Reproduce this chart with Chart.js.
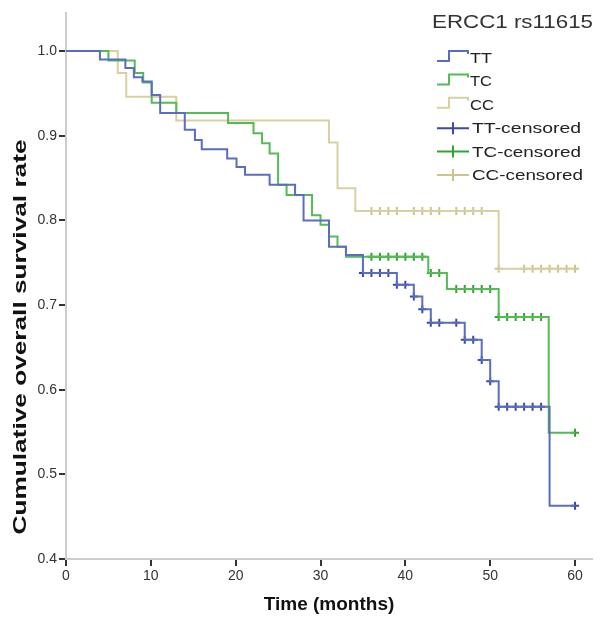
<!DOCTYPE html>
<html>
<head>
<meta charset="utf-8">
<script src="https://cdn.jsdelivr.net/npm/chart.js@4"></script>
<style>
  html, body { margin: 0; padding: 0; background: #fff; }
</style>
</head>
<body>
<canvas id="kmChart" width="600" height="624"></canvas>
<script>
// survival steps (months, cumulative survival)
const ttTime = [0, 4, 7, 8, 9, 10.1, 11.1, 14, 15.2, 16, 19, 20.1, 21.1, 24, 27, 28, 31, 33, 35, 39, 41, 42, 43, 47, 49, 50, 51, 57, 60];
const ttSurv = [1.0, 0.990, 0.980, 0.969, 0.964, 0.948, 0.927, 0.907, 0.895, 0.884, 0.873, 0.863, 0.854, 0.842, 0.830, 0.800, 0.769, 0.759, 0.738, 0.724, 0.710, 0.695, 0.679, 0.659, 0.635, 0.610, 0.580, 0.463, 0.463];

const tcTime = [0, 5, 8.1, 9.1, 10.1, 13, 19.1, 22.1, 23.1, 24, 25, 26, 29, 30, 31, 32, 33, 42.7, 44.9, 51, 56.9, 60];
const tcSurv = [1.0, 0.989, 0.974, 0.963, 0.939, 0.927, 0.915, 0.903, 0.891, 0.879, 0.842, 0.830, 0.806, 0.795, 0.781, 0.769, 0.757, 0.738, 0.719, 0.686, 0.549, 0.549];

const ccTime = [0, 6.1, 7.1, 13, 31, 32, 34.1, 51, 60];
const ccSurv = [1.0, 0.974, 0.946, 0.918, 0.892, 0.838, 0.811, 0.743, 0.743];

// censored cases
const ttCensTime = [35, 36, 37, 38, 39, 40, 41, 42, 43, 44, 46, 47, 48, 49, 50, 51, 52, 53, 54, 55, 56, 60];
const ttCensSurv = [0.738, 0.738, 0.738, 0.738, 0.724, 0.724, 0.710, 0.695, 0.679, 0.679, 0.679, 0.659, 0.659, 0.635, 0.610, 0.580, 0.580, 0.580, 0.580, 0.580, 0.580, 0.463];

const tcCensTime = [36, 37, 38, 39, 40, 41, 42, 43, 44, 46, 47, 48, 49, 50, 51, 52, 53, 54, 55, 56, 60];
const tcCensSurv = [0.757, 0.757, 0.757, 0.757, 0.757, 0.757, 0.757, 0.738, 0.738, 0.719, 0.719, 0.719, 0.719, 0.719, 0.686, 0.686, 0.686, 0.686, 0.686, 0.686, 0.549];

const ccCensTime = [36, 37, 38, 39, 41, 42, 43, 44, 46, 47, 48, 49, 51, 54, 55, 56, 57, 58, 59, 60];
const ccCensSurv = [0.811, 0.811, 0.811, 0.811, 0.811, 0.811, 0.811, 0.811, 0.811, 0.811, 0.811, 0.811, 0.743, 0.743, 0.743, 0.743, 0.743, 0.743, 0.743, 0.743];

const xTicks = [0, 10, 20, 30, 40, 50, 60];
const yTicks = [0.4, 0.5, 0.6, 0.7, 0.8, 0.9, 1.0];

const groupNames = ["TT", "TC", "CC"];
const lineColors = ["#5b6dbe", "#55bb55", "#d9d0a0"];
const markColors = ["#3b4aa8", "#2fa52f", "#cfc38c"];

function toPoints(xs, ys) {
    return xs.map((x, i) => ({x: x, y: ys[i]}));
}

function stepSet(label, xs, ys, color) {
    return {
        label: label,
        data: toPoints(xs, ys),
        showLine: true,
        stepped: 'before',
        borderColor: color,
        borderWidth: 2,
        pointRadius: 0,
        fill: false
    };
}

function censorSet(label, xs, ys, color) {
    return {
        label: label,
        data: toPoints(xs, ys),
        showLine: false,
        pointStyle: 'cross',
        pointRadius: 4,
        borderColor: color,
        borderWidth: 2
    };
}

// title, legend and y title drawn by hand (stretched text like the original export)
const annotations = {
    id: 'annotations',
    afterDraw(chart) {
        const ctx = chart.ctx;
        ctx.save();

        function wideText(text, x, y, font, color, targetWidth) {
            ctx.font = font;
            const w = ctx.measureText(text).width;
            ctx.save();
            ctx.translate(x, y);
            ctx.scale(targetWidth / w, 1);
            ctx.fillStyle = color;
            ctx.textBaseline = 'alphabetic';
            ctx.textAlign = 'left';
            ctx.fillText(text, 0, 0);
            ctx.restore();
        }

        wideText("ERCC1 rs11615", 432, 28, "18px 'Liberation Sans'", "#333", 161);

        const labels = ["TT", "TC", "CC", "TT-censored", "TC-censored", "CC-censored"];
        const widths = [22, 22, 24, 109, 109, 111];
        for (let i = 0; i < labels.length; i++) {
            const base = 63 + i * 23.4;
            const g = i % 3;
            ctx.lineWidth = 2;
            if (i < 3) {
                ctx.strokeStyle = lineColors[g];
                ctx.beginPath();
                ctx.moveTo(437, base - 2);
                ctx.lineTo(449, base - 2);
                ctx.lineTo(449, base - 12);
                ctx.lineTo(468, base - 12);
                ctx.lineTo(468, base - 9);
                ctx.stroke();
            } else {
                ctx.strokeStyle = markColors[g];
                ctx.beginPath();
                ctx.moveTo(437, base - 5);
                ctx.lineTo(469, base - 5);
                ctx.moveTo(453, base - 11);
                ctx.lineTo(453, base + 1);
                ctx.stroke();
            }
            wideText(labels[i], i < 3 ? 470 : 472, base, "14.5px 'Liberation Sans'", "#222", widths[i]);
        }

        // y title, stretched along its length
        const yTitle = "Cumulative overall survival rate";
        ctx.save();
        ctx.font = "bold 18px 'Liberation Sans'";
        const tw = ctx.measureText(yTitle).width;
        ctx.translate(26, 337);
        ctx.rotate(-Math.PI / 2);
        ctx.scale(395 / tw, 1);
        ctx.fillStyle = "#111";
        ctx.textAlign = 'center';
        ctx.textBaseline = 'alphabetic';
        ctx.fillText(yTitle, 0, 0);
        ctx.restore();

        ctx.restore();
    }
};

new Chart("kmChart", {
    type: "scatter",
    data: {
        datasets: [
            stepSet(groupNames[0], ttTime, ttSurv, lineColors[0]),
            stepSet(groupNames[1], tcTime, tcSurv, lineColors[1]),
            stepSet(groupNames[2], ccTime, ccSurv, lineColors[2]),
            censorSet(groupNames[0] + "-censored", ttCensTime, ttCensSurv, markColors[0]),
            censorSet(groupNames[1] + "-censored", tcCensTime, tcCensSurv, markColors[1]),
            censorSet(groupNames[2] + "-censored", ccCensTime, ccCensSurv, markColors[2])
        ]
    },
    options: {
        responsive: false,
        animation: false,
        devicePixelRatio: 1,
        layout: {padding: {top: 13, right: 8, left: 0, bottom: 0}},
        plugins: {
            legend: {display: false},
            tooltip: {enabled: false}
        },
        scales: {
            x: {
                type: 'linear',
                min: 0,
                max: 62,
                afterBuildTicks: (scale) => { scale.ticks = xTicks.map(v => ({value: v})); },
                afterFit: (scale) => { scale.height = 65; },
                grid: {drawOnChartArea: false, drawTicks: true, tickLength: 7, color: '#333', lineWidth: 2},
                border: {display: true, color: '#cdcdcd', width: 2},
                ticks: {color: '#333', font: {family: 'Liberation Sans', size: 14}, padding: 2, maxRotation: 0},
                title: {display: true, text: 'Time (months)', color: '#111', font: {family: 'Liberation Sans', size: 19, weight: 'bold'}, padding: {top: 0, bottom: 8}}
            },
            y: {
                type: 'linear',
                min: 0.4,
                max: 1.045,
                afterBuildTicks: (scale) => { scale.ticks = yTicks.map(v => ({value: v})); },
                afterFit: (scale) => { scale.width = 66; },
                grid: {drawOnChartArea: false, drawTicks: true, tickLength: 7, color: '#333', lineWidth: 2},
                border: {display: true, color: '#cdcdcd', width: 2},
                ticks: {color: '#333', font: {family: 'Liberation Sans', size: 14}, padding: 2, callback: (v) => v.toFixed(1)}
            }
        }
    },
    plugins: [annotations]
});
</script>
</body>
</html>
